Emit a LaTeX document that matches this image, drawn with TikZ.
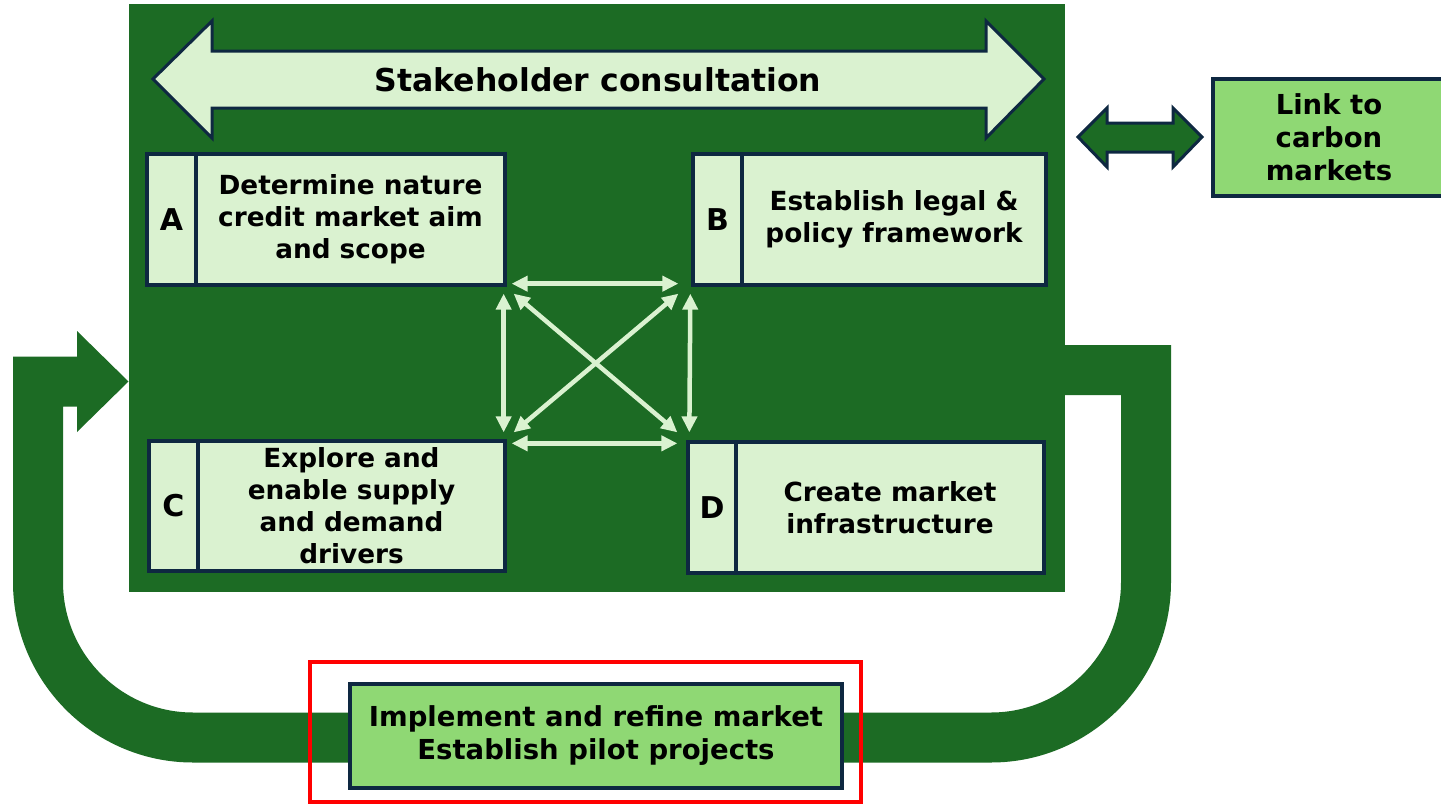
\documentclass[tikz,border=0pt]{standalone}
\usepackage{fontspec}
\setmainfont{DejaVu Sans}
\usetikzlibrary{arrows.meta,calc}
\definecolor{dkgreen}{HTML}{1C6B24}
\definecolor{ltgreen}{HTML}{DAF2D0}
\definecolor{mdgreen}{HTML}{8FD874}
\definecolor{navy}{HTML}{0E2841}
\begin{document}
\begin{tikzpicture}[x=1pt,y=-1pt,
  cell/.style={draw=navy, line width=3.3pt, fill=ltgreen, inner sep=0pt, align=center,
    font=\bfseries\fontsize{26.3}{32}\selectfont},
  lettercell/.style={cell, font=\bfseries\fontsize{30}{36}\selectfont},
  greenbox/.style={draw=navy, line width=3.3pt, fill=mdgreen, inner sep=0pt, align=center,
    font=\bfseries\fontsize{27.5}{33}\selectfont},
  bigarrow/.style={fill=ltgreen, draw=navy, line width=3pt, line join=miter},
  linkarrow/.style={fill=dkgreen, draw=navy, line width=3pt, line join=miter},
  loopband/.style={draw=dkgreen, line width=50pt, line join=miter},
  cross/.style={draw=ltgreen, line width=4.5pt, {Triangle[length=16pt,width=15pt]}-{Triangle[length=16pt,width=15pt]}}
]
\useasboundingbox (0,0) rectangle (1441,806);
\fill[white] (0,0) rectangle (1441,806);

% feedback loop
\coordinate (loopstart) at (1065,370);
\coordinate (loopend) at (77,381.5);
\draw[loopband] (loopstart) -- (1146,370) -- (1146,582)
  .. controls (1146,667.6) and (1076.6,737.5) .. (991,737.5)
  -- (193,737.5)
  .. controls (107.4,737.5) and (38,667.6) .. (38,582)
  -- (38,381.5) -- (loopend);
\fill[dkgreen] (77,331) -- (128.5,381.5) -- (77,432) -- cycle;

% main frame
\node[fill=dkgreen, minimum width=936pt, minimum height=588pt, inner sep=0pt] (frame) at (597,298) {};

% stakeholder consultation arrow
\draw[bigarrow] (153,79) -- (212,21) -- (212,51) -- (986,51) -- (986,21) -- (1044,79)
  -- (986,138) -- (986,108) -- (212,108) -- (212,138) -- cycle;
\node[font=\bfseries\fontsize{31.5}{36}\selectfont] (stake) at (598,80) {Stakeholder consultation};

% boxes
\node[lettercell, minimum width=49pt, minimum height=131pt] (AL) at (171.5,219.5) {A};
\node[cell, minimum width=309pt, minimum height=131pt] (A) at (350.5,219.5) {Determine nature\\credit market aim\\and scope};
\node[lettercell, minimum width=49pt, minimum height=131pt] (BL) at (717.5,219.5) {B};
\node[cell, minimum width=304pt, minimum height=131pt] (B) at (894,219.5) {Establish legal \&\\policy framework};
\node[lettercell, minimum width=49pt, minimum height=130pt] (CL) at (173.5,506) {C};
\node[cell, minimum width=307pt, minimum height=130pt] (C) at (351.5,506) {Explore and\\enable supply\\and demand\\drivers};
\node[lettercell, minimum width=48pt, minimum height=131pt] (DL) at (712,507.5) {D};
\node[cell, minimum width=308pt, minimum height=131pt] (D) at (890,507.5) {Create market\\infrastructure};

% cross connectors
\draw[cross] ([xshift=5pt,yshift=3pt]A.south east) -- ([xshift=-13pt,yshift=3pt]BL.south west);
\draw[cross] ([xshift=5pt,yshift=-4pt]C.north east) -- ([xshift=-9pt,yshift=-3pt]DL.north west);
\draw[cross] ([xshift=-3pt,yshift=-7pt]A.south east) -- ([xshift=-3pt,yshift=7pt]C.north east);
\draw[cross] ([xshift=-1pt,yshift=-7pt]BL.south west) -- ([xshift=3pt,yshift=8pt]DL.north west);
\draw[cross] ([xshift=7pt,yshift=-7pt]A.south east) -- ([xshift=-9pt,yshift=8pt]DL.north west);
\draw[cross] ([xshift=-13pt,yshift=-7pt]BL.south west) -- ([xshift=7pt,yshift=7pt]C.north east);

% link to carbon markets
\node[greenbox, minimum width=232pt, minimum height=117pt] (link) at (1329,137.5) {Link to\\carbon\\markets};
\draw[linkarrow] (1078,137) -- (1107,108) -- (1107,123) -- (1173,123) -- (1173,108) -- (1202,137)
  -- (1173,167) -- (1173,152) -- (1107,152) -- (1107,167) -- cycle;

% implement box
\node[greenbox, minimum width=492pt, minimum height=104pt] (impl) at (596,736) {Implement and refine market\\Establish pilot projects};
\draw[red, line width=4.5pt] (310,662) rectangle (861,802);
\end{tikzpicture}
\end{document}
